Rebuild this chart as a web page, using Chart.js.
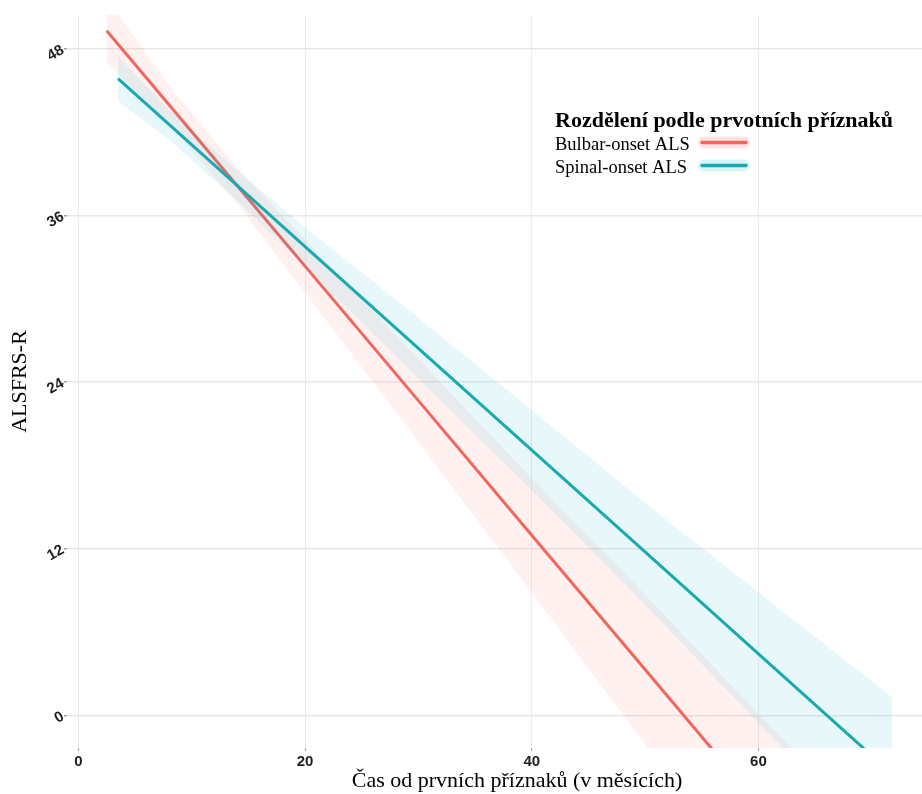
<!DOCTYPE html>
<html>
<head>
<meta charset="utf-8">
<script src="https://cdn.jsdelivr.net/npm/chart.js@4.4.1/dist/chart.umd.min.js"></script>
<style>
  html, body { margin: 0; padding: 0; background: #ffffff; overflow: hidden; }
  #wrap { position: relative; width: 1000px; height: 794px; }
</style>
</head>
<body>
<div id="wrap"><canvas id="c" width="1000" height="794"></canvas></div>
<script>
// Linear fits of ALSFRS-R over time since first symptoms, with 95% confidence bands
const seriesNames = ['Bulbar-onset ALS', 'Spinal-onset ALS'];

const bulbarX     = [2.5, 8, 14, 20, 30, 40, 50, 60, 66];
const bulbarFit   = [49.31, 43.98, 38.17, 32.36, 22.67, 12.98, 3.30, -6.39, -12.20];
const bulbarUpper = [51.61, 45.38, 39.47, 34.26, 25.67, 17.08, 8.70, 0.11, -5.00];
const bulbarLower = [47.01, 42.58, 36.87, 30.46, 19.67, 8.88, -2.10, -12.89, -19.40];

const spinalX     = [3.5, 8, 14, 20, 30, 40, 50, 60, 71.8];
const spinalFit   = [45.87, 42.57, 38.17, 33.77, 26.44, 19.10, 11.77, 4.43, -4.22];
const spinalUpper = [47.47, 43.67, 39.27, 35.17, 28.64, 22.00, 15.30, 8.85, 1.30];
const spinalLower = [44.27, 41.47, 37.07, 32.37, 24.24, 16.20, 7.97, -0.57, -10.20];

const xTicks = [0, 20, 40, 60];
const yTicks = [0, 12, 24, 36, 48];

const xTitle = 'Čas od prvních příznaků (v měsících)';
const yTitle = 'ALSFRS-R';
const legendTitle = 'Rozdělení podle prvotních příznaků';

const lineColors   = ['#F3665E', '#17AAB0'];
const ribbonColors = ['rgba(248,118,109,0.10)', 'rgba(0,175,200,0.09)'];
const keyBgColors  = ['rgba(248,118,109,0.20)', 'rgba(0,175,200,0.15)'];

const pts = (xs, ys) => xs.map((x, i) => ({ x: x, y: ys[i] }));

const ribbonBase = { borderWidth: 0, pointRadius: 0, tension: 0, clip: 0 };
const lineBase = { borderWidth: 3, pointRadius: 0, tension: 0, fill: false, clip: 0 };

// Legend drawn inside the panel: title, labels on the left, keys on the right
const ribbonLegend = {
  id: 'ribbonLegend',
  afterDraw(chart) {
    const ctx = chart.ctx;
    const x0 = 555;
    ctx.save();
    ctx.fillStyle = '#000000';
    ctx.textAlign = 'left';
    ctx.textBaseline = 'alphabetic';
    ctx.font = 'bold 22px "Liberation Serif"';
    ctx.fillText(legendTitle, x0, 127);
    ctx.font = '18.5px "Liberation Serif"';
    const rows = [150, 173];
    const keyY = [142.5, 165.5];
    seriesNames.forEach((name, i) => {
      ctx.fillStyle = '#000000';
      ctx.fillText(name, x0, rows[i]);
      // key background
      ctx.fillStyle = keyBgColors[i];
      ctx.beginPath();
      ctx.roundRect(698, keyY[i] - 6, 52, 12, 6);
      ctx.fill();
      // key line
      ctx.strokeStyle = lineColors[i];
      ctx.lineWidth = 3.5;
      ctx.lineCap = 'round';
      ctx.beginPath();
      ctx.moveTo(702, keyY[i]);
      ctx.lineTo(746, keyY[i]);
      ctx.stroke();
    });
    ctx.restore();
  }
};

new Chart(document.getElementById('c'), {
  type: 'line',
  data: {
    datasets: [
      Object.assign({ label: seriesNames[1], data: pts(spinalX, spinalFit), borderColor: lineColors[1], order: 0 }, lineBase),
      Object.assign({ label: 'spinal upper', data: pts(spinalX, spinalUpper), backgroundColor: ribbonColors[1], fill: 2, order: 1 }, ribbonBase),
      Object.assign({ label: 'spinal lower', data: pts(spinalX, spinalLower), fill: false, order: 1 }, ribbonBase),
      Object.assign({ label: seriesNames[0], data: pts(bulbarX, bulbarFit), borderColor: lineColors[0], order: 2 }, lineBase),
      Object.assign({ label: 'bulbar upper', data: pts(bulbarX, bulbarUpper), backgroundColor: ribbonColors[0], fill: 5, order: 3 }, ribbonBase),
      Object.assign({ label: 'bulbar lower', data: pts(bulbarX, bulbarLower), fill: false, order: 3 }, ribbonBase)
    ]
  },
  options: {
    responsive: false,
    animation: false,
    devicePixelRatio: 1,
    layout: { padding: { top: 15, right: 33, left: 0, bottom: 0 } },
    plugins: {
      legend: { display: false },
      tooltip: { enabled: false },
      filler: { propagate: false }
    },
    scales: {
      x: {
        type: 'linear',
        min: -1,
        max: 78.4,
        afterBuildTicks: s => { s.ticks = xTicks.map(v => ({ value: v })); },
        afterFit: s => { s.height = 46; },
        grid: { color: '#ececec', lineWidth: 1, tickLength: 3, tickColor: '#a0a0a0' },
        border: { display: false },
        ticks: {
          font: { family: 'Liberation Sans', weight: 'bold', size: 15 },
          color: '#1f1f1f', padding: 2, maxRotation: 0, autoSkip: false
        },
        title: {
          display: true, text: xTitle, color: '#000000', padding: 0,
          font: { family: 'Liberation Serif', size: 22 }
        }
      },
      y: {
        type: 'linear',
        min: -2.35,
        max: 50.45,
        afterBuildTicks: s => { s.ticks = yTicks.map(v => ({ value: v })); },
        afterFit: s => { s.width = 67; },
        grid: { color: '#e8e8e8', lineWidth: 1.5, tickLength: 3, tickColor: '#a0a0a0' },
        border: { display: false },
        ticks: {
          font: { family: 'Liberation Sans', weight: 'bold', size: 15 },
          color: '#1f1f1f', padding: 1, minRotation: 30, maxRotation: 30, autoSkip: false
        },
        title: {
          display: true, text: yTitle, color: '#000000', padding: { top: 7, bottom: 0 },
          font: { family: 'Liberation Serif', size: 22 }
        }
      }
    }
  },
  plugins: [ribbonLegend]
});
</script>
</body>
</html>
